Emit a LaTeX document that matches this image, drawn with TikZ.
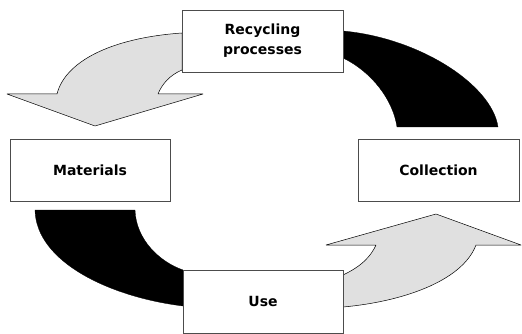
\documentclass[tikz,border=0pt]{standalone}
\usepackage{fontspec}
\setmainfont{DejaVu Sans}
\begin{document}
\begin{tikzpicture}[x=1pt,y=-1pt,
  stagebox/.style={draw=black!70,line width=0.6pt,fill=white,inner sep=0pt,
    font=\bfseries\fontsize{14}{20}\selectfont,align=center},
  lightarrow/.style={draw=black,line width=0.5pt,fill=black!12,line join=round},
  darkarrow/.style={fill=black,draw=black,line width=0.3pt}]
\useasboundingbox (0,0) rectangle (522,334);

% dark bands (drawn first, boxes cover their ends)
\fill[darkarrow] (343,31) .. controls (420,38) and (492,85) .. (498,127)
  -- (397,127) .. controls (393,100) and (372,72) .. (343,58) -- cycle;
\fill[darkarrow] (35,210) .. controls (36,262) and (110,297) .. (183,306)
  -- (183,270) .. controls (160,262) and (136,240) .. (135,210) -- cycle;

% light curved arrows
\draw[lightarrow] (182,33) .. controls (110,38) and (65,62) .. (57,94)
  -- (7,94) -- (95,126) -- (203,94) -- (158,94)
  .. controls (162,84) and (170,75) .. (182,70) -- cycle;
\draw[lightarrow] (343,307) .. controls (400,302) and (462,282) .. (476,245)
  -- (521,245) -- (436,214) -- (326,245) -- (376,245)
  .. controls (371,256) and (362,266) .. (343,275) -- cycle;

% stage boxes
\node[stagebox,minimum width=161pt,minimum height=62pt] (rec) at (262.5,41) {Recycling\\processes};
\node[stagebox,minimum width=160pt,minimum height=62pt] (mat) at (90,170) {Materials};
\node[stagebox,minimum width=161pt,minimum height=62pt] (col) at (438.5,170) {Collection};
\node[stagebox,minimum width=160pt,minimum height=63pt] (use) at (263,301.5) {Use};
\end{tikzpicture}
\end{document}
